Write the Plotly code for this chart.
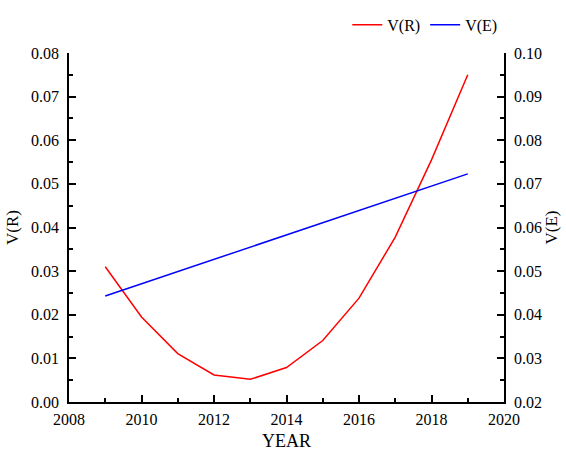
import plotly.graph_objects as go

years = [2009, 2010, 2011, 2012, 2013, 2014, 2015, 2016, 2017, 2018, 2019]
v_r = [0.0310, 0.0195, 0.0111, 0.0062, 0.0052, 0.0079, 0.0141, 0.0238, 0.0378, 0.0555, 0.0750]
v_e = [0.0443, 0.0471, 0.0499, 0.0527, 0.0555, 0.0583, 0.0610, 0.0638, 0.0666, 0.0694, 0.0723]

font = "Times New Roman, Liberation Serif, serif"

fig = go.Figure()
fig.add_trace(go.Scatter(x=years, y=v_r, mode="lines", name="V(R)",
                         line=dict(color="#ff0000", width=1.5)))
fig.add_trace(go.Scatter(x=years, y=v_e, mode="lines", name="V(E)", yaxis="y2",
                         line=dict(color="#0000ff", width=1.5)))

minor_y = dict(ticks="inside", ticklen=4, tickwidth=1.5, tickcolor="black", dtick=0.005)
axis_common = dict(showgrid=False, zeroline=False, showline=True, linecolor="black",
                   linewidth=1.5, ticks="inside", ticklen=7, tickwidth=1.5, tickcolor="black",
                   automargin=False,
                   tickfont=dict(family=font, size=16, color="black"))

fig.update_layout(
    width=566, height=451,
    margin=dict(l=69, r=62, t=53, b=49),
    paper_bgcolor="white", plot_bgcolor="white",
    font=dict(family=font, color="black"),
    showlegend=True,
    legend=dict(orientation="h", x=0.996, xanchor="right", y=0.945, yanchor="middle",
                yref="container",
                font=dict(family=font, size=16), bgcolor="rgba(0,0,0,0)"),
    xaxis=dict(range=[2008, 2020], tickvals=[2008, 2010, 2012, 2014, 2016, 2018, 2020],
               minor=dict(ticks="inside", ticklen=4, tickwidth=1.5, tickcolor="black", dtick=1, tick0=2008),
               ticklabelstandoff=2,
               title=dict(text="YEAR", font=dict(family=font, size=18), standoff=13),
               **axis_common),
    yaxis=dict(range=[0, 0.08], dtick=0.01, tickformat=".2f", minor=minor_y,
               ticklabelstandoff=5,
               title=dict(text="V(R)", font=dict(family=font, size=17), standoff=8),
               **axis_common),
    yaxis2=dict(range=[0.02, 0.10], dtick=0.01, tickformat=".2f", overlaying="y", side="right",
                minor=minor_y, ticklabelstandoff=5,
                title=dict(text="V(E)", font=dict(family=font, size=17), standoff=2),
                **axis_common),
)

fig.write_html("out.html", config={"displayModeBar": False},
               post_script="document.body.style.margin='0';")
